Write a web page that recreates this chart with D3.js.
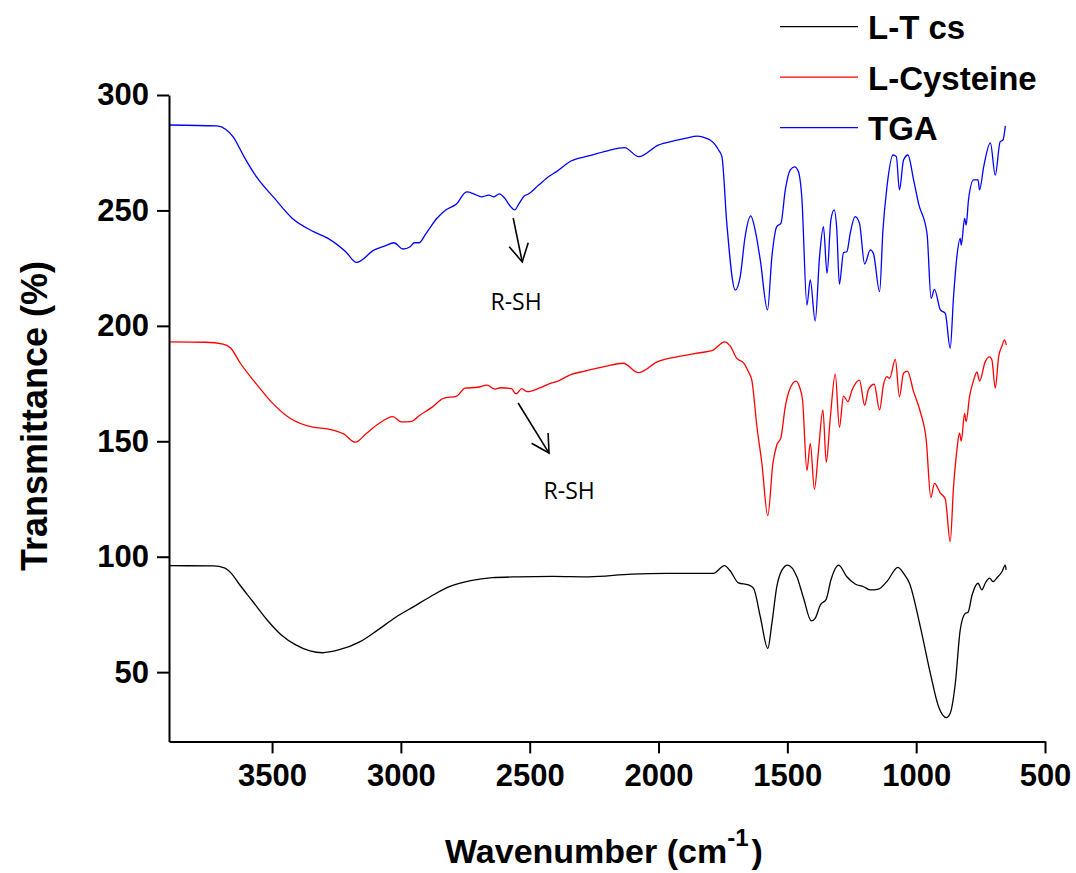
<!DOCTYPE html>
<html>
<head>
<meta charset="utf-8">
<script src="https://cdn.jsdelivr.net/npm/d3@7"></script>
<style>
  body { margin: 0; background: #fff; }
  svg { display: block; }
</style>
</head>
<body>
<svg id="chart" width="1076" height="873"></svg>
<script>
// tick values
var xMajor = [3500, 3000, 2500, 2000, 1500, 1000, 500];
var xMinor = [3750, 3250, 2750, 2250, 1750, 1250, 750];
var yMajor = [50, 100, 150, 200, 250, 300];
var yMinor = [25, 75, 125, 175, 225, 275];

var seriesNames = ["L-T cs", "L-Cysteine", "TGA"];
var seriesColors = ["#000000", "#ff0000", "#0000ff"];

// L-T cs (black)
var ltcsWave = [3900,3727,3685,3658,3630,3574,3519,3464,3408,3353,3304,3242,3158,3089,3020,2950,2881,2812,2729,2646,2548,2410,2271,2105,1966,1838,1787,1744,1722,1690,1651,1631,1605,1576,1560,1541,1521,1499,1463,1437,1407,1392,1372,1349,1331,1301,1269,1237,1204,1178,1146,1114,1071,1049,1026,984,945,913,883,868,848,829,809,799,783,760,745,732,715,702,686,667,654,651];
var ltcsT = [96.1,96.0,95.2,92.8,88.5,80.5,72.6,66.1,61.8,59.2,58.4,59.6,63.2,68.3,73.8,78.4,83.0,87.0,89.6,90.9,91.3,91.5,91.3,92.5,92.8,92.8,92.8,96.1,93.9,88.7,87.8,86.3,74.0,60.3,71.2,87.0,94.2,96.4,91.3,82.0,72.2,73.3,79.1,81.6,89.9,96.4,91.3,88.2,87.0,85.6,86.0,89.2,95.4,92.8,88.5,69.7,49.5,35.0,30.3,32.2,45.2,68.3,75.5,75.9,83.4,88.5,85.6,88.5,90.7,89.2,90.9,93.5,96.4,94.3];

// L-Cysteine (red)
var cysWave = [3900,3757,3690,3660,3623,3563,3504,3430,3341,3281,3222,3177,3133,3088,3031,2999,2962,2925,2880,2835,2783,2751,2702,2665,2635,2613,2571,2553,2531,2509,2464,2420,2390,2338,2286,2211,2137,2078,2003,1929,1855,1788,1744,1722,1696,1670,1651,1638,1618,1599,1576,1556,1541,1525,1508,1492,1466,1453,1441,1424,1411,1395,1379,1362,1349,1334,1314,1298,1282,1265,1249,1220,1200,1185,1163,1142,1127,1114,1103,1081,1065,1049,1034,1010,984,961,943,929,906,887,868,855,842,832,825,812,806,793,777,764,754,732,715,706,693,680,667,657,650];
var cysT = [193.1,192.9,192.1,190.3,183.8,175.1,167.2,160.0,156.1,155.3,153.2,149.6,153.5,157.5,160.7,158.4,158.5,161.4,164.7,168.6,169.6,173.0,173.4,174.3,172.6,173.2,172.8,170.5,172.8,171.5,173.0,175.1,176.1,179.0,180.4,182.3,183.8,179.7,184.5,186.6,188.1,189.5,193.1,191.3,185.9,184.0,180.1,176.5,156.3,140.5,117.8,140.5,148.4,151.6,165.0,172.2,176.1,173.6,167.9,137.3,149.1,129.2,146.2,163.6,140.9,159.2,179.1,156.1,169.6,167.2,172.2,176.5,165.6,172.5,174.7,163.6,174.4,178.0,177.3,185.5,169.3,179.5,180.4,171.5,162.8,150.6,125.6,131.8,127.5,125.0,106.5,130.3,146.2,153.5,150.1,162.1,158.5,169.3,176.5,180.1,176.1,184.5,186.6,185.2,173.0,186.6,191.3,193.9,191.7];

// TGA (blue)
var tgaWave = [3900,3713,3679,3651,3609,3561,3491,3422,3339,3283,3214,3172,3103,3061,3027,2992,2964,2948,2930,2902,2860,2826,2784,2745,2715,2687,2659,2639,2618,2597,2576,2558,2541,2520,2507,2465,2423,2396,2340,2271,2202,2132,2077,2001,1938,1897,1848,1814,1800,1779,1767,1754,1735,1702,1683,1664,1642,1625,1605,1577,1560,1541,1525,1508,1489,1472,1457,1444,1424,1411,1392,1375,1360,1346,1331,1318,1308,1298,1282,1269,1256,1237,1220,1200,1178,1166,1142,1129,1114,1090,1077,1065,1049,1032,1010,991,958,942,929,906,887,868,855,842,829,825,812,806,797,777,760,754,738,712,693,674,663,654];
var tgaT = [287.0,286.6,285.1,281.9,273.3,264.6,255.3,246.6,240.8,237.9,232.1,227.5,232.9,234.6,236.0,233.3,234.3,236.0,236.0,240.1,246.6,250.2,252.8,258.0,257.1,255.9,256.6,255.9,257.2,255.3,251.9,250.2,253.1,256.4,257.0,261.0,264.9,266.8,271.4,273.6,275.7,277.2,273.3,278.3,280.2,281.2,282.2,281.2,280.5,278.3,276.2,273.3,244.4,215.5,221.3,238.6,247.6,241.5,228.5,206.9,230.0,243.0,244.4,258.9,267.5,268.9,266.8,255.9,209.0,219.9,202.1,230.0,243.0,222.8,245.9,250.2,241.5,218.1,231.7,232.1,240.1,247.3,244.4,226.8,232.9,231.4,214.8,241.5,259.6,274.0,273.3,258.9,271.8,274.0,263.2,253.1,240.1,211.9,215.8,206.9,205.4,190.3,212.6,230.0,237.9,235.0,246.6,243.7,254.5,263.2,263.2,258.9,268.9,279.3,265.3,279.8,280.5,286.6];

// R-SH annotations: arrow start, arrow tip, label (wavenumber, T)
var arrowStart = [[2564, 246.7], [2545, 166.6]];
var arrowTip = [[2529, 227.7], [2425, 144.9]];
var labelPos = [[2553, 206.9], [2347, 125.0]];
var labelText = ["R-SH", "R-SH"];

var svg = d3.select("#chart");

var x = d3.scaleLinear().domain([3900, 500]).range([169, 1045]);
var y = d3.scaleLinear().domain([20, 300]).range([741.4, 95]);

var font = "'Liberation Sans', Arial, sans-serif";

// curves
var line = d3.line()
  .x(function(d){ return x(d[0]) })
  .y(function(d){ return y(d[1]) })
  .curve(d3.curveMonotoneX);

var all = [
  d3.zip(ltcsWave, ltcsT),
  d3.zip(cysWave, cysT),
  d3.zip(tgaWave, tgaT)
];

svg.selectAll("path.spec")
  .data(all)
  .enter()
  .append("path")
    .attr("class", "spec")
    .attr("d", line)
    .attr("fill", "none")
    .attr("stroke", function(d, i){ return seriesColors[i] })
    .attr("stroke-width", 1.3);

// axes
var gx = svg.append("g").attr("transform", "translate(0,741.4)");
gx.call(d3.axisBottom(x).tickValues(xMinor).tickSize(7).tickSizeOuter(0).tickFormat(""));
gx.call(d3.axisBottom(x).tickValues(xMajor).tickSize(12).tickSizeOuter(0).tickPadding(11).tickFormat(d3.format("d")));

var gy = svg.append("g").attr("transform", "translate(169,0)");
gy.call(d3.axisLeft(y).tickValues(yMinor).tickSize(7).tickSizeOuter(0).tickFormat(""));
gy.call(d3.axisLeft(y).tickValues(yMajor).tickSize(12).tickSizeOuter(0).tickPadding(8).tickFormat(d3.format("d")));

svg.selectAll(".domain").attr("stroke", "#000").attr("stroke-width", 2);
svg.selectAll(".tick line").attr("stroke", "#000").attr("stroke-width", 2);
svg.selectAll(".tick text")
  .attr("font-family", font)
  .attr("font-weight", "bold")
  .attr("font-size", 31)
  .attr("fill", "#000");

// axis titles
var xt = svg.append("text")
  .attr("x", 445)
  .attr("y", 863)
  .attr("font-family", font)
  .attr("font-weight", "bold")
  .attr("font-size", 34);
xt.append("tspan").text("Wavenumber (cm");
xt.append("tspan").attr("font-size", 24).attr("dy", -17).text("-1");
xt.append("tspan").attr("dy", 17).attr("dx", 3).text(")");

svg.append("text")
  .attr("transform", "translate(47,416) rotate(-90)")
  .attr("text-anchor", "middle")
  .attr("font-family", font)
  .attr("font-weight", "bold")
  .attr("font-size", 36)
  .text("Transmittance (%)");

// legend
var leg = svg.selectAll("g.leg")
  .data(seriesNames)
  .enter()
  .append("g")
    .attr("class", "leg")
    .attr("transform", function(d, i){ return "translate(780," + (26.7 + i * 50.5) + ")" });
leg.append("line")
  .attr("x1", 0).attr("x2", 78)
  .attr("stroke", function(d, i){ return seriesColors[i] })
  .attr("stroke-width", 1.3);
leg.append("text")
  .attr("x", 88)
  .attr("y", 12.3)
  .attr("font-family", font)
  .attr("font-weight", "bold")
  .attr("font-size", 33)
  .text(function(d){ return d });

// annotations
var ann = svg.append("g").attr("stroke", "#000").attr("stroke-width", 1.6).attr("fill", "none");
arrowStart.forEach(function(s, i){
  var t = arrowTip[i];
  var sx = x(s[0]), sy = y(s[1]), tx = x(t[0]), ty = y(t[1]);
  var ang = Math.atan2(sy - ty, sx - tx);
  var len = 20, spread = 29 * Math.PI / 180;
  var b1 = [tx + len * Math.cos(ang - spread), ty + len * Math.sin(ang - spread)];
  var b2 = [tx + len * Math.cos(ang + spread), ty + len * Math.sin(ang + spread)];
  ann.append("path").attr("d", "M" + sx + "," + sy + "L" + tx + "," + ty);
  ann.append("path").attr("d", "M" + b1 + "L" + tx + "," + ty + "L" + b2);
});

svg.selectAll("text.rsh")
  .data(labelPos)
  .enter()
  .append("text")
    .attr("class", "rsh")
    .attr("x", function(d){ return x(d[0]) })
    .attr("y", function(d){ return y(d[1]) })
    .attr("text-anchor", "middle")
    .attr("font-family", "'Open Sans', sans-serif")
    .attr("font-size", 23)
    .text(function(d, i){ return labelText[i] });
</script>
</body>
</html>
